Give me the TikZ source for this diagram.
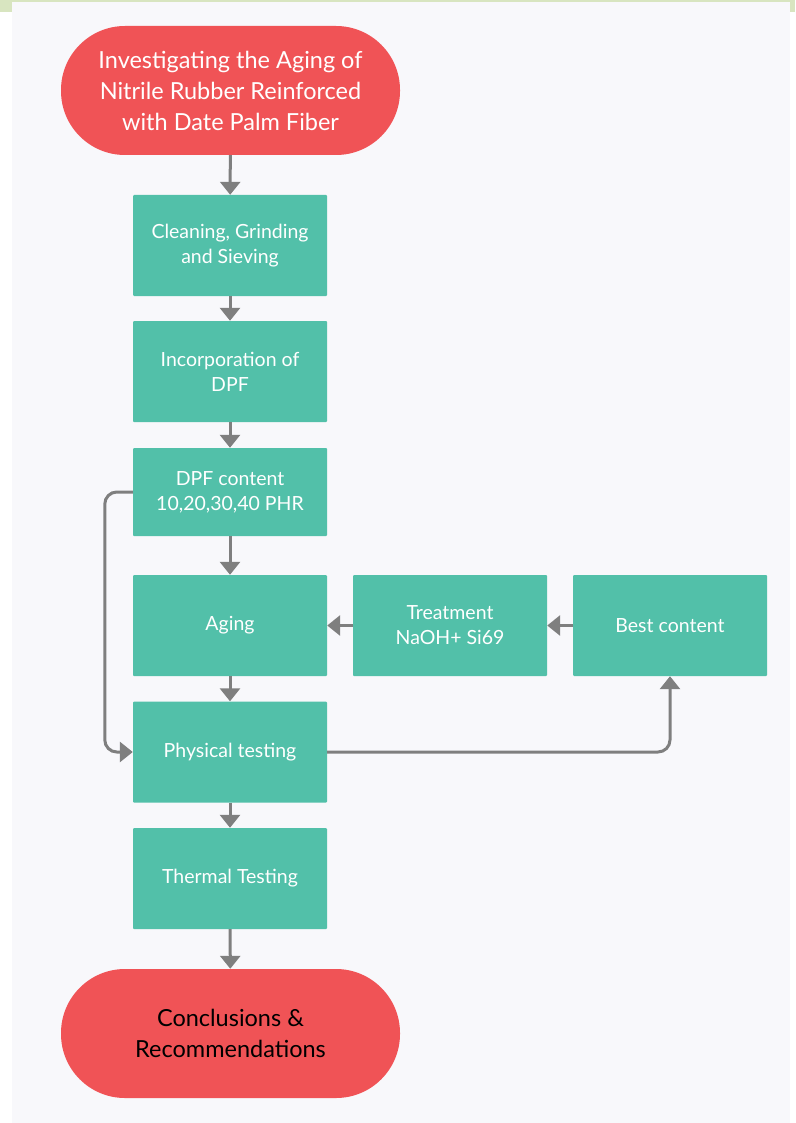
\documentclass[tikz,border=0pt]{standalone}
\usepackage{fontspec}
\setmainfont{Lato}
\usetikzlibrary{arrows.meta}
\definecolor{bgc}{HTML}{F8F8FB}
\definecolor{strip}{HTML}{D8E5C0}
\definecolor{tealc}{HTML}{52C0A9}
\definecolor{redc}{HTML}{F05356}
\definecolor{arrc}{HTML}{7F7F7F}
\tikzset{
  proc/.style={fill=tealc, minimum width=194pt, minimum height=101pt, text=white, align=center, inner sep=0pt, rounded corners=1pt, font=\fontsize{19.5}{25}\selectfont},
  term/.style={fill=redc, minimum width=339pt, minimum height=129pt, align=center, inner sep=0pt, rounded corners=64pt, font=\fontsize{23.5}{31}\selectfont},
  arr/.style={draw=arrc, line width=3pt, -{Triangle[length=13pt,width=20pt]}}
}
\begin{document}
\begin{tikzpicture}[x=1pt,y=-1pt]
\useasboundingbox (0,0) rectangle (795,1123);
\fill[white] (0,0) rectangle (795,1123);
\fill[bgc] (12,2) rectangle (790,1123);
\fill[strip] (0,0) rectangle (795,2);
\fill[strip] (0,0) rectangle (12,12);
\fill[strip] (790,0) rectangle (795,12);

\node[term, text=white] (top) at (230.5,90.5) {Investigating the Aging of\\Nitrile Rubber Reinforced\\with Date Palm Fiber};
\node[proc] (clean) at (230,245.5) {Cleaning, Grinding\\and Sieving};
\node[proc] (inc) at (230,371.5) {Incorporation of\\DPF};
\node[proc, minimum height=88pt] (dpf) at (230,492) {DPF content\\10,20,30,40 PHR};
\node[proc] (aging) at (230,625.5) {Aging};
\node[proc] (phys) at (230,752) {Physical testing};
\node[proc] (therm) at (230,878.5) {Thermal Testing};
\node[proc] (treat) at (450,625.5) {Treatment\\NaOH+ Si69};
\node[proc] (best) at (670,625.5) {Best content};
\node[term, text=black] (concl) at (230.5,1033.5) {Conclusions \&\\Recommendations};

\draw[arr] (top) -- (clean);
\draw[arr] (clean) -- (inc);
\draw[arr] (inc) -- (dpf);
\draw[arr] (dpf) -- (aging);
\draw[arr] (aging) -- (phys);
\draw[arr] (phys) -- (therm);
\draw[arr] (therm) -- (concl);
\draw[arr] (best) -- (treat);
\draw[arr] (treat) -- (aging);
\draw[arr, rounded corners=12pt] (dpf.west) -- ++(-28,0) |- (phys.west);
\draw[arr, rounded corners=12pt] (phys.east) -| (best.south);
\end{tikzpicture}
\end{document}
